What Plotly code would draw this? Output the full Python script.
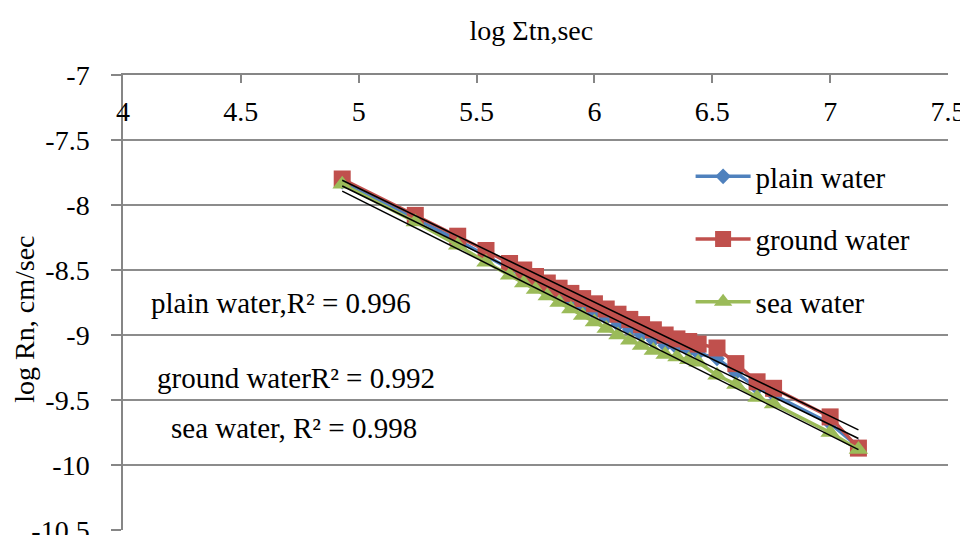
import numpy as np
import plotly.graph_objects as go

# log Σtn (sec) – shared x positions
log_t = [4.93, 5.24, 5.42, 5.54, 5.64, 5.70, 5.75, 5.80, 5.85, 5.90, 5.95, 6.00,
         6.05, 6.10, 6.15, 6.20, 6.25, 6.30, 6.35, 6.40, 6.44, 6.52, 6.60, 6.69,
         6.76, 7.00, 7.12]

plain_water = [-7.82, -8.10, -8.27, -8.39, -8.49, -8.55, -8.60, -8.65, -8.69, -8.74,
               -8.78, -8.83, -8.87, -8.92, -8.96, -9.00, -9.04, -9.08, -9.10, -9.12,
               -9.14, -9.18, -9.29, -9.41, -9.46, -9.68, -9.86]

ground_water = [-7.80, -8.08, -8.24, -8.35, -8.45, -8.50, -8.55, -8.60, -8.64, -8.68,
                -8.72, -8.76, -8.80, -8.84, -8.88, -8.92, -8.96, -9.00, -9.03, -9.05,
                -9.07, -9.10, -9.22, -9.36, -9.41, -9.63, -9.87]

sea_water = [-7.84, -8.13, -8.31, -8.44, -8.54, -8.60, -8.65, -8.70, -8.75, -8.80,
             -8.85, -8.90, -8.95, -9.00, -9.04, -9.08, -9.12, -9.15, -9.17, -9.19,
             -9.21, -9.31, -9.38, -9.48, -9.53, -9.75, -9.88]

series_names = ["plain water", "ground water", "sea water"]
r2_labels = ["plain water,R² = 0.996",
             "ground waterR² = 0.992",
             "sea water, R² = 0.998"]

x_tickvals = [4, 4.5, 5, 5.5, 6, 6.5, 7, 7.5]
x_ticktext = ["4", "4.5", "5", "5.5", "6", "6.5", "7", "7.5"]
y_tickvals = [-7, -7.5, -8, -8.5, -9, -9.5, -10, -10.5]
y_ticktext = ["-7", "-7.5", "-8", "-8.5", "-9", "-9.5", "-10", "-10.5"]

FONT = "Liberation Serif"
colors = ["#4F81BD", "#C0504D", "#9BBB59"]
symbols = ["diamond", "square", "triangle-up"]
msizes = [12, 17, 17]

fig = go.Figure()
for i, (name, ys) in enumerate(zip(series_names, [plain_water, ground_water, sea_water])):
    fig.add_trace(go.Scatter(
        x=log_t, y=ys, mode="lines+markers", name=name,
        legendgroup=name,
        line=dict(color=colors[i], width=3.5),
        marker=dict(symbol=symbols[i], size=msizes[i], color=colors[i]),
    ))

# linear trendlines (fitted from the data)
xs = np.array(log_t)
for ys in [plain_water, ground_water, sea_water]:
    k, b = np.polyfit(xs, np.array(ys), 1)
    xr = np.array([xs.min(), xs.max()])
    fig.add_trace(go.Scatter(x=xr, y=k * xr + b, mode="lines", showlegend=False,
                             line=dict(color="black", width=1.5), hoverinfo="skip"))

ann_pos = [(4.67, -8.75), (4.735, -9.33), (4.725, -9.715)]
for txt, (ax, ay) in zip(r2_labels, ann_pos):
    fig.add_annotation(x=ax, y=ay, xref="x", yref="y", text=txt, showarrow=False,
                       font=dict(family=FONT, size=29, color="black"))

fig.add_annotation(x=-0.119, y=0.464, xref="paper", yref="paper",
                   xanchor="center", yanchor="middle",
                   text="log Rn, cm/sec", textangle=-90, showarrow=False,
                   font=dict(family=FONT, size=28, color="black"))

fig.update_layout(
    width=960, height=527,
    margin=dict(l=115, r=20, t=67, b=5),
    paper_bgcolor="white", plot_bgcolor="white",
    font=dict(family=FONT, color="black"),
    title=dict(text="log Σtn,sec", x=0.495, xref="paper", y=1 - 22 / 527,
               yref="container", xanchor="center", yanchor="middle",
               font=dict(family=FONT, size=28, color="black")),
    showlegend=True,
    legend=dict(x=0.688, y=0.833, xanchor="left", yanchor="top",
                bgcolor="rgba(0,0,0,0)", font=dict(family=FONT, size=29, color="black"),
                itemwidth=55, traceorder="grouped", tracegroupgap=22),
    xaxis=dict(side="top", range=[4, 7.5], tickvals=x_tickvals, ticktext=x_ticktext,
               ticks="inside", ticklen=8, tickcolor="#868686", tickwidth=1.5,
               ticklabelposition="inside", ticklabelstandoff=21, ticklabeloverflow="allow",
               showline=True, linecolor="#868686", linewidth=1.5, automargin=False,
               showgrid=False, zeroline=False,
               tickfont=dict(family=FONT, size=28, color="black")),
    yaxis=dict(range=[-10.5, -7], tickvals=y_tickvals, ticktext=y_ticktext,
               ticks="outside", ticklen=10, tickcolor="#868686", tickwidth=1.5,
               ticklabelstandoff=16, ticklabeloverflow="allow", automargin=False,
               showline=True, linecolor="#868686", linewidth=1.5,
               showgrid=True, gridcolor="#8c8c8c", gridwidth=1.5, zeroline=False,
               tickfont=dict(family=FONT, size=28, color="black")),
)

fig.write_html("out.html")
